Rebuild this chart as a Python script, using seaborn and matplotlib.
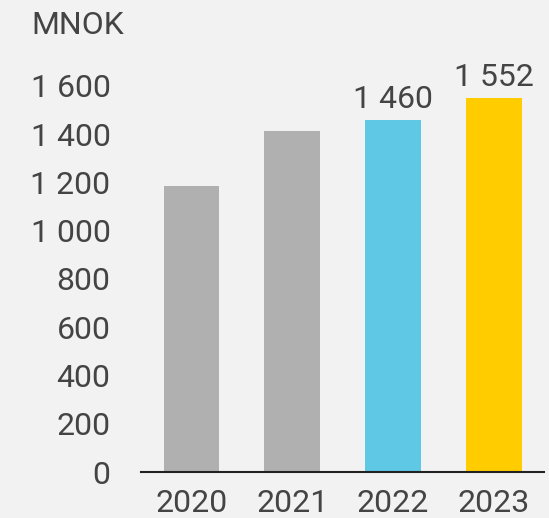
"""
Revenue bar chart (MNOK) 2020-2023, highlight the last two years.
"""
import matplotlib
matplotlib.use("Agg")
import matplotlib.pyplot as plt
import seaborn as sns

# Data
years = ["2020", "2021", "2022", "2023"]
revenue = [1186, 1415, 1460, 1552]
bar_colors = ["#b0b0b0", "#b0b0b0", "#5ec8e5", "#ffcc00"]
value_labels = ["", "", "1 460", "1 552"]
y_ticks = [0, 200, 400, 600, 800, 1000, 1200, 1400, 1600]
y_tick_labels = ["0", "200", "400", "600", "800", "1 000", "1 200", "1 400", "1 600"]

BG = "#f2f2f2"
TEXT = "#444444"

sns.set_style("white")
plt.rcParams["font.family"] = ["Roboto", "DejaVu Sans"]
plt.rcParams["font.size"] = 23

fig = plt.figure(figsize=(5.49, 5.18), dpi=100, facecolor=BG)
ax = fig.add_axes([0.257, 0.0888, 0.734, 0.7452])
ax.set_facecolor(BG)

sns.barplot(x=years, y=revenue, hue=years, palette=bar_colors, width=0.555,
            legend=False, saturation=1, linewidth=0, edgecolor="none", ax=ax)

for cont, lab in zip(ax.containers, value_labels):
    if lab:
        ax.bar_label(cont, labels=[lab], padding=4, color=TEXT, fontsize=23)

ax.set_xlim(-0.5, 3.5)
ax.set_ylim(0, 1600)
ax.set_yticks(y_ticks)
ax.set_yticklabels(y_tick_labels)
ax.tick_params(axis="y", length=0, pad=22, colors=TEXT, labelsize=23)
ax.tick_params(axis="x", length=0, pad=12, colors=TEXT, labelsize=23)
ax.set_xlabel("")
ax.set_ylabel("")

for side in ["top", "right", "left"]:
    ax.spines[side].set_visible(False)
ax.spines["bottom"].set_color("#222222")
ax.spines["bottom"].set_linewidth(1.5)

fig.text(31 / 549, 1 - 34 / 518, "MNOK", color=TEXT, fontsize=23,
         ha="left", va="baseline")

fig.savefig("out.png", dpi=100, facecolor=BG)
